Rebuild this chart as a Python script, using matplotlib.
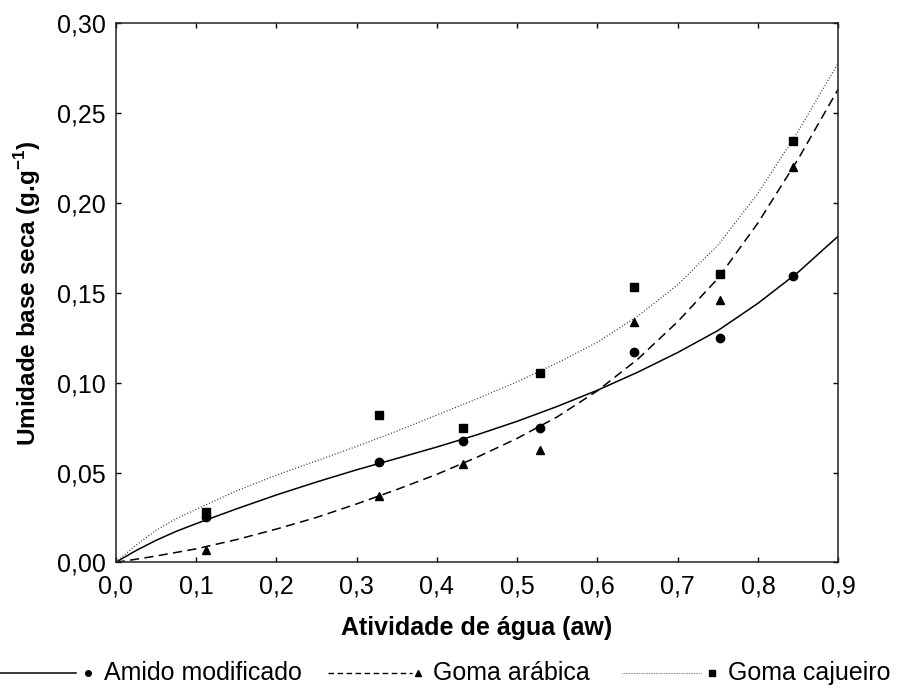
import matplotlib
matplotlib.use("Agg")
import matplotlib.pyplot as plt
from matplotlib.lines import Line2D

plt.rcParams['font.family'] = ['Liberation Sans', 'DejaVu Sans']
plt.rcParams['mathtext.fontset'] = 'custom'
plt.rcParams['mathtext.rm'] = 'Liberation Sans'
plt.rcParams['mathtext.bf'] = 'Liberation Sans:bold'

# Experimental points (water activity, moisture on dry basis)
aw_exp = [0.113, 0.328, 0.432, 0.529, 0.645, 0.753, 0.843]
amido_exp = [0.0254, 0.0557, 0.0677, 0.0749, 0.1169, 0.1247, 0.1592]
arabica_exp = [0.0068, 0.0367, 0.0549, 0.0627, 0.1339, 0.1458, 0.2202]
cajueiro_exp = [0.0282, 0.0818, 0.0749, 0.1052, 0.1532, 0.1603, 0.2343]

# Fitted isotherm curves
aw_fit = [0.0, 0.025, 0.05, 0.075, 0.1, 0.15, 0.2, 0.25, 0.3, 0.35, 0.4,
          0.45, 0.5, 0.55, 0.6, 0.65, 0.7, 0.75, 0.8, 0.85, 0.9]
amido_fit = [0.0, 0.0065, 0.0122, 0.0172, 0.0215, 0.0297, 0.0375, 0.0447,
             0.0515, 0.0578, 0.0642, 0.071, 0.0785, 0.0868, 0.0958, 0.1058,
             0.1168, 0.129, 0.1442, 0.1615, 0.1816]
arabica_fit = [0.0, 0.0017, 0.0035, 0.0055, 0.0075, 0.0126, 0.0185, 0.025,
               0.0325, 0.0405, 0.049, 0.0585, 0.069, 0.081, 0.0955, 0.113,
               0.134, 0.158, 0.189, 0.2245, 0.2635]
cajueiro_fit = [0.0, 0.0095, 0.0178, 0.0242, 0.0295, 0.0397, 0.0485, 0.0565,
                0.0645, 0.073, 0.082, 0.091, 0.1005, 0.111, 0.1225, 0.137,
                0.1545, 0.1765, 0.2055, 0.240, 0.278]

xticks = [0.0, 0.1, 0.2, 0.3, 0.4, 0.5, 0.6, 0.7, 0.8, 0.9]
xtick_labels = ['0,0', '0,1', '0,2', '0,3', '0,4', '0,5', '0,6', '0,7', '0,8', '0,9']
yticks = [0.0, 0.05, 0.10, 0.15, 0.20, 0.25, 0.30]
ytick_labels = ['0,00', '0,05', '0,10', '0,15', '0,20', '0,25', '0,30']

series_names = ['Amido modificado', 'Goma arábica', 'Goma cajueiro']

fig = plt.figure(figsize=(8.97, 6.90), dpi=100)
ax = fig.add_axes([0.129, 0.185, 0.8056, 0.7812])

dash_style = (0, (6, 3.5))
dot_style = (0, (0.8, 1.6))

ax.plot(aw_fit, amido_fit, color='black', lw=1.1, linestyle='-')
ax.plot(aw_fit, arabica_fit, color='black', lw=1.1, linestyle=dash_style)
ax.plot(aw_fit, cajueiro_fit, color='#333333', lw=0.9, linestyle=dot_style)

ax.plot(aw_exp, amido_exp, 'o', color='black', ms=6, mec='black', ls='none')
ax.plot(aw_exp, arabica_exp, '^', color='black', ms=6, mec='black', ls='none')
ax.plot(aw_exp, cajueiro_exp, 's', color='black', ms=6, mec='black', ls='none')

ax.set_xlim(0, 0.9)
ax.set_ylim(0, 0.30)
ax.set_xticks(xticks)
ax.set_xticklabels(xtick_labels)
ax.set_yticks(yticks)
ax.set_yticklabels(ytick_labels)
ax.tick_params(direction='in', length=3.5, width=1, labelsize=18,
               top=True, right=True, colors='black')
ax.tick_params(axis='x', pad=9)
ax.tick_params(axis='y', pad=7)
for sp in ax.spines.values():
    sp.set_linewidth(1.1)
    sp.set_color('#222222')

ax.set_xlabel('Atividade de água (aw)', fontsize=18, fontweight='bold', labelpad=12)
ax.set_ylabel(r'Umidade base seca (g.g$^{\mathbf{-1}}$)', fontsize=17.5,
              fontweight='bold', labelpad=10)

# Legend row below the axes: line sample, small marker, name
leg = fig.add_axes([0, 0, 1, 1], facecolor='none')
leg.set_xlim(0, 897)
leg.set_ylim(690, 0)
leg.axis('off')
legend_items = [
    (series_names[0], '-', 'o', 0, 76, 88, 104, 1.1, 'black'),
    (series_names[1], (0, (4, 2.5)), '^', 328, 412, 418, 433, 1.0, 'black'),
    (series_names[2], (0, (0.6, 0.9)), 's', 622, 702, 712, 728, 0.8, '#555555'),
]
y_leg = 673
for name, ls, mk, x0, x1, xm, xt, lw, col in legend_items:
    leg.add_line(Line2D([x0, x1], [y_leg, y_leg], color=col, lw=lw, linestyle=ls))
    leg.add_line(Line2D([xm], [y_leg], marker=mk, color='black', ms=4, ls='none'))
    leg.text(xt, y_leg, name, fontsize=18, va='center', ha='left')

fig.savefig('out.png', dpi=100)
